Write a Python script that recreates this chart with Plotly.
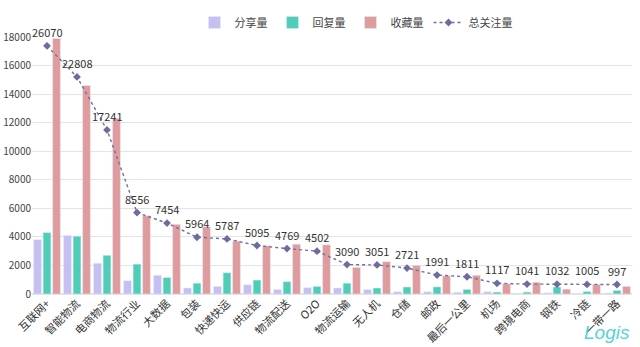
import plotly.graph_objects as go

categories = ["互联网+", "智能物流", "电商物流", "物流行业", "大数据", "包装", "快递快运", "供应链",
              "物流配送", "O2O", "物流运输", "无人机", "仓储", "邮政", "最后一公里", "机场",
              "跨境电商", "钢铁", "冷链", "一带一路"]
share = [3800, 4100, 2150, 930, 1310, 420, 530, 645, 310, 445, 420, 310, 155, 155, 120, 155, 45, 80, 45, 67]
reply = [4300, 4050, 2710, 2090, 1155, 755, 1490, 975, 865, 530, 755, 420, 490, 500, 320, 133, 133, 490, 170, 250]
collect = [17900, 14600, 12300, 5480, 4880, 4700, 3700, 3375, 3485, 3440, 1865, 2265, 2000, 1267, 1310, 710, 820, 340, 666, 533]
total = [26070, 22808, 17241, 8556, 7454, 5964, 5787, 5095, 4769, 4502, 3090, 3051, 2721, 1991, 1811, 1117, 1041, 1032, 1005, 997]
y_ticks = [0, 2000, 4000, 6000, 8000, 10000, 12000, 14000, 16000, 18000]

FONT = "Microsoft YaHei, Noto Sans CJK SC, sans-serif"

fig = go.Figure()
fig.add_trace(go.Bar(name="分享量", x=categories, y=share, marker_color="#c5bff2"))
fig.add_trace(go.Bar(name="回复量", x=categories, y=reply, marker_color="#4fcdb9"))
fig.add_trace(go.Bar(name="收藏量", x=categories, y=collect, marker_color="#df9c9e"))
fig.add_trace(go.Scatter(name="总关注量", x=categories, y=total, yaxis="y2",
                         mode="lines+markers", cliponaxis=False,
                         line=dict(color="#70709f", width=1.4, dash="dot"),
                         marker=dict(symbol="diamond", size=6, color="#6c6c9e")))

label_annotations = [
    dict(x=c, y=v, xref="x", yref="y2", text=str(v), showarrow=False,
         yanchor="middle", xanchor="center", yshift=14,
         font=dict(size=11, color="#333333", family=FONT))
    for c, v in zip(categories, total)
]

fig.update_layout(
    width=640, height=347,
    margin=dict(l=32, r=8, t=24, b=53),
    paper_bgcolor="white", plot_bgcolor="white",
    font=dict(family=FONT, size=10, color="#444444"),
    barmode="group", bargap=0.05, bargroupgap=0.18,
    showlegend=True,
    legend=dict(orientation="h", x=0.54, y=1.0, xanchor="center", yanchor="bottom",
                font=dict(size=11, color="#444444"), itemwidth=30,
                bgcolor="rgba(0,0,0,0)"),
    xaxis=dict(tickangle=-45, showgrid=False, showline=False, ticks="", automargin=False,
               range=[-0.5, len(categories) - 0.5],
               tickfont=dict(size=11, color="#333333")),
    yaxis=dict(range=[0, 18000], tickvals=y_ticks, tickformat="d", showgrid=True,
               gridcolor="#e4e4e4", automargin=False,
               zeroline=True, zerolinecolor="#e4e4e4", showline=False, ticks="",
               tickfont=dict(size=10, color="#444444")),
    yaxis2=dict(range=[0, 27000], overlaying="y", side="right", visible=False,
                showgrid=False),
    annotations=label_annotations + [
        dict(text="<i>Logis</i>", x=1.0, y=-0.15, xref="paper", yref="paper",
             xanchor="right", yanchor="middle", showarrow=False,
             font=dict(size=19, color="#55d4d4", family="Liberation Sans"))],
)

fig.write_html("out.html")
